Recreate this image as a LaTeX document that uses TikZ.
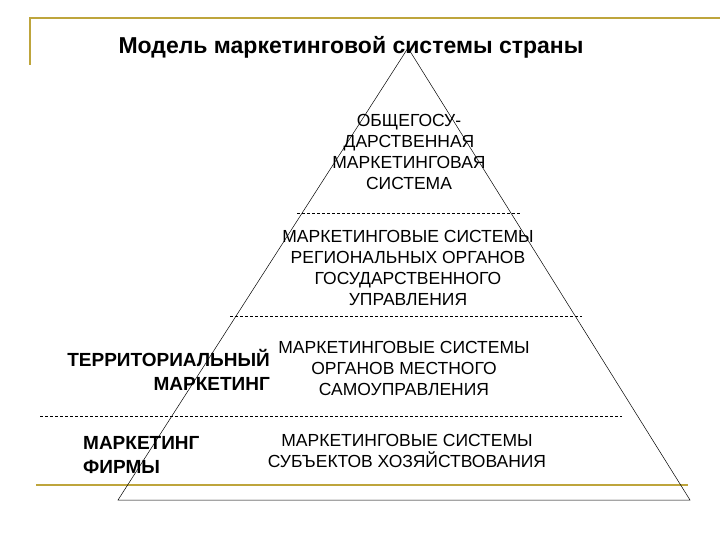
\documentclass[tikz,border=0pt]{standalone}
\usepackage{fontspec}
\setmainfont{Liberation Sans}
\definecolor{gold}{RGB}{190,165,60}
\begin{document}
\begin{tikzpicture}[x=1pt,y=-1pt,
  body/.style={align=center,font=\fontsize{17.5}{21}\selectfont,inner sep=0},
  lab/.style={font=\bfseries\fontsize{19}{24}\selectfont,inner sep=0},
  dline/.style={dash pattern=on 3pt off 2pt,line width=0.5pt}]
\useasboundingbox (0,0) rectangle (720,540);
\draw[gold,line width=1.5pt] (30,65) -- (30,18) -- (720,18);
\draw[gold,line width=2pt] (36,485) -- (688,485);
\coordinate (A) at (408,48);
\coordinate (B) at (118,500);
\coordinate (C) at (690,500);
\draw[line width=0.5pt] (A) -- (B) -- (C) -- cycle;
\node[font=\bfseries\fontsize{23}{26}\selectfont,inner sep=0] (t) at (351,47) {Модель маркетинговой системы страны};
\coordinate (d1a) at (297,213); \coordinate (d1b) at (520,213);
\coordinate (d2a) at (230,316); \coordinate (d2b) at (582,316);
\coordinate (d3a) at (40,416); \coordinate (d3b) at (622,416);
\draw[dline] (d1a) -- (d1b);
\draw[dline] (d2a) -- (d2b);
\draw[dline] (d3a) -- (d3b);
\node[body] (n1) at (409,152) {ОБЩЕГОСУ-\\ДАРСТВЕННАЯ\\МАРКЕТИНГОВАЯ\\СИСТЕМА};
\node[body] (n2) at (408,268) {МАРКЕТИНГОВЫЕ СИСТЕМЫ\\РЕГИОНАЛЬНЫХ ОРГАНОВ\\ГОСУДАРСТВЕННОГО\\УПРАВЛЕНИЯ};
\node[body] (n3) at (404,368) {МАРКЕТИНГОВЫЕ СИСТЕМЫ\\ОРГАНОВ МЕСТНОГО\\САМОУПРАВЛЕНИЯ};
\node[body] (n4) at (407,451) {МАРКЕТИНГОВЫЕ СИСТЕМЫ\\СУБЪЕКТОВ ХОЗЯЙСТВОВАНИЯ};
\node[lab,align=right,anchor=east] (l1) at (270,370) {ТЕРРИТОРИАЛЬНЫЙ\\МАРКЕТИНГ};
\node[lab,align=left,anchor=west] (l2) at (83,455) {МАРКЕТИНГ\\ФИРМЫ};
\end{tikzpicture}
\end{document}
